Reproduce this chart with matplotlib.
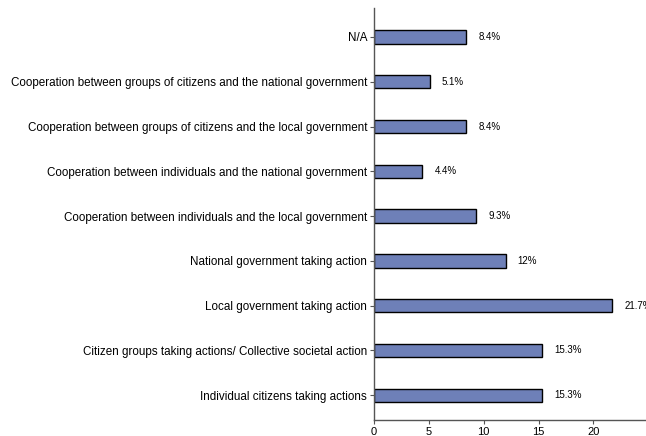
import matplotlib
matplotlib.use("Agg")
import matplotlib.pyplot as plt

categories = [
    "Individual citizens taking actions",
    "Citizen groups taking actions/ Collective societal action",
    "Local government taking action",
    "National government taking action",
    "Cooperation between individuals and the local government",
    "Cooperation between individuals and the national government",
    "Cooperation between groups of citizens and the local government",
    "Cooperation between groups of citizens and the national government",
    "N/A",
]
values = [15.3, 15.3, 21.7, 12, 9.3, 4.4, 8.4, 5.1, 8.4]
value_labels = ["15.3%", "15.3%", "21.7%", "12%", "9.3%", "4.4%", "8.4%", "5.1%", "8.4%"]
xticks = [0, 5, 10, 15, 20]

plt.rcParams['font.family'] = ['Liberation Sans', 'DejaVu Sans']
fig = plt.figure(figsize=(6.46, 4.36), dpi=100)
ax = fig.add_axes([0.579, 0.037, 0.421, 0.945])
pos = list(range(len(categories)))
ax.barh(pos, values, height=0.3, color='#6E80B8', edgecolor='black', linewidth=1)
for p, v, lab in zip(pos, values, value_labels):
    t = ax.text(v + 1.1, p, lab, va='center', ha='left', fontsize=7, color='black')
    t.set_clip_on(True)
ax.set_yticks(pos)
ax.set_yticklabels(categories, fontsize=8.4)
ax.set_xticks(xticks)
ax.set_xticklabels([str(x) for x in xticks], fontsize=8)
ax.set_xlim(0, 24.8)
ax.set_ylim(-0.55, 8.65)
for s in ['top', 'right']:
    ax.spines[s].set_visible(False)
for s in ['left', 'bottom']:
    ax.spines[s].set_color('#555555')
    ax.spines[s].set_linewidth(1)
ax.tick_params(axis='both', colors='#555555', length=3, labelcolor='black', pad=2)
fig.savefig('out.png', dpi=100, facecolor='white')
